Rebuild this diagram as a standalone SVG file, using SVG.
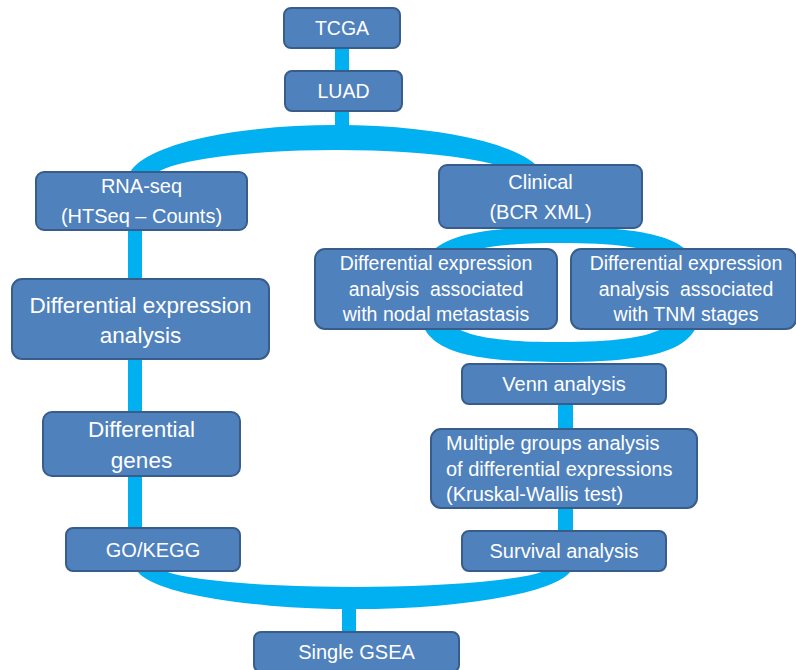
<svg xmlns="http://www.w3.org/2000/svg" width="796" height="670" viewBox="0 0 796 670">
  <style>
    .box { fill: #4F81BD; stroke: #385D8A; stroke-width: 2; }
    .link { fill: #00B0F0; stroke: none; }
    text { font-family: "Liberation Sans", Arial, sans-serif; fill: #FFFFFF; font-size: 20px; text-anchor: middle; white-space: pre; }
    .big { font-size: 22.5px; }
    .mid { font-size: 19.5px; }
    .left { text-anchor: start; }
  </style>
  <rect width="796" height="670" fill="#FFFFFF"/>
  <g id="connectors">
    <rect class="link" x="335" y="46" width="14" height="27"/>
    <rect class="link" x="335" y="109" width="14" height="22"/>
    <path class="link" d="M128,180 A208,55 0 0 1 544,180 L521,180 A185,30 0 0 0 151,180 Z"/>
    <rect class="link" x="128" y="225" width="14" height="305"/>
    <path class="link" fill-rule="evenodd" d="M560,227 C686,227 702,250 702,295 C702,340 686,362 560,362 C434,362 418,340 418,295 C418,250 434,227 560,227 Z M560,243 C668,243 680,260 680,292.5 C680,325 668,342 560,342 C452,342 440,325 440,292.5 C440,260 452,243 560,243 Z"/>
    <rect class="link" x="558" y="400" width="15" height="133"/>
    <path class="link" d="M135,565 A219,44 0 0 0 573,565 L552,565 A197.5,22 0 0 1 157,565 Z"/>
    <rect class="link" x="342" y="604" width="14" height="30"/>
  </g>
  <g id="tcga">
    <rect class="box" x="284" y="8" width="116" height="40" rx="7"/>
    <text x="342" y="35" class="mid">TCGA</text>
  </g>
  <g id="luad">
    <rect class="box" x="285" y="71" width="117" height="40" rx="7"/>
    <text x="343.5" y="98" class="mid">LUAD</text>
  </g>
  <g id="rnaseq">
    <rect class="box" x="36" y="172" width="211" height="58" rx="8"/>
    <text x="141.5" y="193">RNA-seq</text>
    <text x="141.5" y="223">(HTSeq – Counts)</text>
  </g>
  <g id="clinical">
    <rect class="box" x="439" y="165" width="203" height="63" rx="8"/>
    <text x="540.5" y="189">Clinical</text>
    <text x="540.5" y="219">(BCR XML)</text>
  </g>
  <g id="dea">
    <rect class="box" x="12" y="279" width="257" height="80" rx="10"/>
    <text x="140.5" y="313" class="big">Differential expression</text>
    <text x="140.5" y="343" class="big">analysis</text>
  </g>
  <g id="de-nodal">
    <rect class="box" x="315" y="249" width="242" height="80" rx="10"/>
    <text x="436" y="270" class="mid" xml:space="preserve">Differential expression</text>
    <text x="436" y="296" class="mid" xml:space="preserve">analysis  associated</text>
    <text x="436" y="321" class="mid" xml:space="preserve">with nodal metastasis</text>
  </g>
  <g id="de-tnm">
    <rect class="box" x="571" y="249" width="225" height="80" rx="10"/>
    <text x="686" y="270" class="mid" xml:space="preserve">Differential expression</text>
    <text x="686" y="296" class="mid" xml:space="preserve">analysis  associated</text>
    <text x="686" y="321" class="mid" xml:space="preserve">with TNM stages</text>
  </g>
  <g id="venn">
    <rect class="box" x="462" y="364" width="204" height="40" rx="7"/>
    <text x="564" y="391">Venn analysis</text>
  </g>
  <g id="diff-genes">
    <rect class="box" x="43" y="412" width="197" height="64" rx="9"/>
    <text x="141.5" y="437" class="big">Differential</text>
    <text x="141.5" y="468" class="big">genes</text>
  </g>
  <g id="multiple">
    <rect class="box" x="431" y="429" width="266" height="79" rx="10"/>
    <text x="446" y="450" class="left">Multiple groups analysis</text>
    <text x="446" y="476" class="left">of differential expressions</text>
    <text x="446" y="501" class="left">(Kruskal-Wallis test)</text>
  </g>
  <g id="gokegg">
    <rect class="box" x="66" y="528" width="174" height="43" rx="7"/>
    <text x="153" y="557">GO/KEGG</text>
  </g>
  <g id="survival">
    <rect class="box" x="462" y="531" width="204" height="40" rx="7"/>
    <text x="564" y="558">Survival analysis</text>
  </g>
  <g id="gsea">
    <rect class="box" x="254" y="632" width="205" height="40" rx="7"/>
    <text x="356.5" y="659">Single GSEA</text>
  </g>
</svg>
